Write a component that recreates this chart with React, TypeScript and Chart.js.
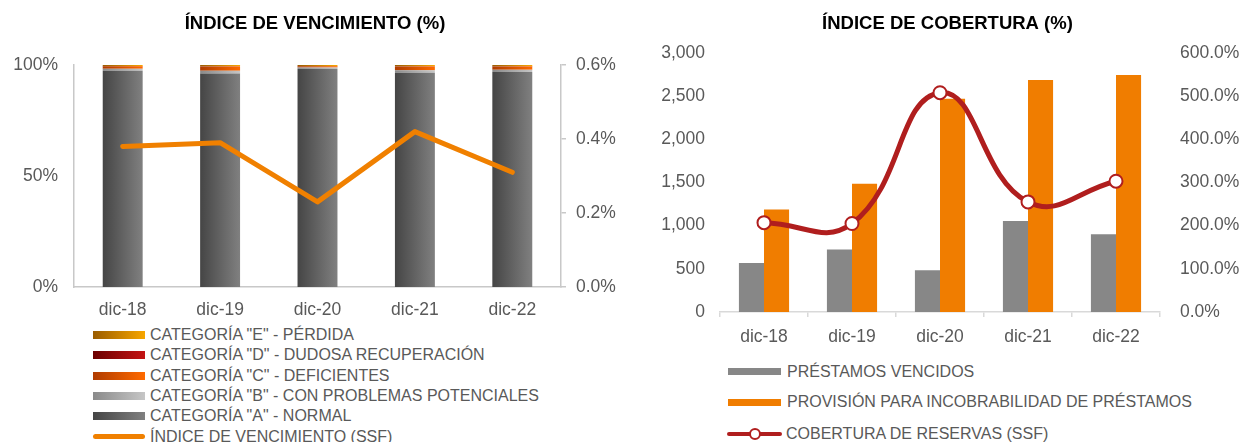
import React, { useEffect, useRef } from 'react';
import { Chart, registerables } from 'chart.js';
Chart.register(...registerables);

// ---------- DATA ----------
const categories = ['dic-18', 'dic-19', 'dic-20', 'dic-21', 'dic-22'];

// Índice de vencimiento: composition of portfolio by risk category (%)
const catA = [97.4, 96.2, 98.3, 96.5, 96.8];
const catB = [0.9, 1.2, 0.6, 1.1, 1.1];
const catC = [1.1, 1.9, 0.5, 1.7, 1.4];
const catD = [0.1, 0.1, 0.1, 0.1, 0.1];
const catE = [0.5, 0.6, 0.5, 0.6, 0.6];
const indiceVencimiento = [0.38, 0.39, 0.23, 0.42, 0.31];

// Índice de cobertura
const prestamosVencidos = [569, 724, 484, 1053, 902];
const provision = [1188, 1486, 2470, 2686, 2745];
const cobertura = [207, 205, 508, 255, 303];

const leftLabels = [
  'CATEGORÍA "A" - NORMAL',
  'CATEGORÍA "B" - CON PROBLEMAS POTENCIALES',
  'CATEGORÍA "C" - DEFICIENTES',
  'CATEGORÍA "D" - DUDOSA RECUPERACIÓN',
  'CATEGORÍA "E" - PÉRDIDA',
];
const leftLineLabel = 'ÍNDICE DE VENCIMIENTO (SSF)';
const rightLabels = ['PRÉSTAMOS VENCIDOS', 'PROVISIÓN PARA INCOBRABILIDAD DE PRÉSTAMOS'];
const rightLineLabel = 'COBERTURA DE RESERVAS (SSF)';

// ---------- STYLE ----------
const FONT = "'Liberation Sans', Arial, sans-serif";
const TXT = '#595959';
const AXIS = '#c8c8c8';
const gradA: [string, string] = ['#454545', '#808080'];
const gradB: [string, string] = ['#8a8a8a', '#c6c6c6'];
const gradC: [string, string] = ['#b03c00', '#ff6a00'];
const gradD: [string, string] = ['#6b0000', '#c41414'];
const gradE: [string, string] = ['#9a5c00', '#f7a600'];
const ORANGE_LINE = '#F08000';
const GRAY_BAR = '#878787';
const ORANGE_BAR = '#F07D00';
const RED_LINE = '#B01E1E';
const LEFT_BAR_PCT = 0.41;

function hGrad(c: [string, string]) {
  return (ctx: any) => {
    const chart = ctx.chart;
    const area = chart.chartArea;
    const xs = chart.scales && chart.scales.x;
    if (!area || !xs || ctx.dataIndex === undefined) return c[1];
    const cx = xs.getPixelForValue(ctx.dataIndex);
    const w = (area.width / categories.length) * LEFT_BAR_PCT;
    const g = chart.ctx.createLinearGradient(cx - w / 2, 0, cx + w / 2, 0);
    g.addColorStop(0, c[0]);
    g.addColorStop(1, c[1]);
    return g;
  };
}

const tickFont = { family: FONT, size: 17.5 };
const titleFont = { family: FONT, size: 18.5, weight: 'bold' as const, lineHeight: 1.2 };

export default function App() {
  const leftRef = useRef<HTMLCanvasElement | null>(null);
  const rightRef = useRef<HTMLCanvasElement | null>(null);

  useEffect(() => {
    const barDs = (label: string, data: number[], g: [string, string]) => ({
      type: 'bar' as const,
      label,
      data,
      backgroundColor: hGrad(g),
      stack: 's',
      yAxisID: 'y',
      order: 1,
      categoryPercentage: 1,
      barPercentage: LEFT_BAR_PCT,
    });
    const left = new Chart(leftRef.current as HTMLCanvasElement, {
      type: 'bar',
      data: {
        labels: categories,
        datasets: [
          {
            type: 'line',
            label: leftLineLabel,
            data: indiceVencimiento,
            yAxisID: 'y1',
            borderColor: ORANGE_LINE,
            backgroundColor: ORANGE_LINE,
            borderWidth: 5,
            pointRadius: 0,
            tension: 0,
            order: 0,
            borderCapStyle: 'round',
            borderJoinStyle: 'round',
          } as any,
          barDs(leftLabels[0], catA, gradA),
          barDs(leftLabels[1], catB, gradB),
          barDs(leftLabels[2], catC, gradC),
          barDs(leftLabels[3], catD, gradD),
          barDs(leftLabels[4], catE, gradE),
        ],
      },
      options: {
        responsive: false,
        animation: false,
        layout: { padding: 0 },
        plugins: {
          legend: { display: false },
          tooltip: { enabled: false },
          title: {
            display: true,
            text: 'ÍNDICE DE VENCIMIENTO (%)',
            color: '#000000',
            font: titleFont,
            padding: { top: 13, bottom: 29.8 },
          },
        },
        scales: {
          x: {
            stacked: true,
            grid: { display: false, drawTicks: false },
            border: { display: true, color: AXIS, width: 1.5 },
            ticks: { color: TXT, font: tickFont, padding: 13 },
            afterFit: (s: any) => { s.height = 33; },
          },
          y: {
            stacked: true,
            min: 0,
            max: 100,
            ticks: { stepSize: 50, color: TXT, font: tickFont, padding: 16, callback: (v: any) => v + '%' },
            grid: { display: false, drawTicks: false },
            border: { display: true, color: AXIS, width: 1.5 },
            afterFit: (s: any) => { s.width = 74; },
          },
          y1: {
            position: 'right',
            min: 0,
            max: 0.6,
            ticks: { stepSize: 0.2, color: TXT, font: tickFont, padding: 10, callback: (v: any) => Number(v).toFixed(1) + '%' },
            grid: { display: true, drawOnChartArea: false, drawTicks: true, tickLength: 5, color: AXIS, lineWidth: 1.5 },
            border: { display: true, color: AXIS, width: 1.5 },
            afterFit: (s: any) => { s.width = 69; },
          },
        },
      } as any,
    });

    const right = new Chart(rightRef.current as HTMLCanvasElement, {
      type: 'bar',
      data: {
        labels: categories,
        datasets: [
          {
            type: 'line',
            label: rightLineLabel,
            data: cobertura,
            yAxisID: 'y1',
            borderColor: RED_LINE,
            backgroundColor: '#ffffff',
            borderWidth: 5,
            tension: 0.45,
            pointRadius: 6.5,
            pointBorderWidth: 2,
            pointBackgroundColor: '#ffffff',
            pointBorderColor: RED_LINE,
            order: 0,
          } as any,
          {
            type: 'bar',
            label: rightLabels[0],
            data: prestamosVencidos,
            backgroundColor: GRAY_BAR,
            yAxisID: 'y',
            order: 1,
            categoryPercentage: 0.57,
            barPercentage: 1,
          },
          {
            type: 'bar',
            label: rightLabels[1],
            data: provision,
            backgroundColor: ORANGE_BAR,
            yAxisID: 'y',
            order: 1,
            categoryPercentage: 0.57,
            barPercentage: 1,
          },
        ],
      },
      options: {
        responsive: false,
        animation: false,
        layout: { padding: 0 },
        plugins: {
          legend: { display: false },
          tooltip: { enabled: false },
          title: {
            display: true,
            text: 'ÍNDICE DE COBERTURA (%)',
            color: '#000000',
            font: titleFont,
            padding: { top: 13, bottom: 17.8 },
          },
        },
        scales: {
          x: {
            grid: { display: true, drawOnChartArea: false, drawTicks: true, tickLength: 5, color: '#d9d9d9', lineWidth: 1.5 },
            border: { display: true, color: '#d9d9d9', width: 1.5 },
            ticks: { color: TXT, font: tickFont, padding: 10 },
            afterFit: (s: any) => { s.height = 33; },
          },
          y: {
            min: 0,
            max: 3000,
            ticks: { stepSize: 500, color: TXT, font: tickFont, padding: 15, callback: (v: any) => Number(v).toLocaleString('en-US') },
            grid: { display: false, drawTicks: false },
            border: { display: false },
            afterFit: (s: any) => { s.width = 80; },
          },
          y1: {
            position: 'right',
            min: 0,
            max: 600,
            ticks: { stepSize: 100, color: TXT, font: tickFont, padding: 20, callback: (v: any) => Number(v).toFixed(1) + '%' },
            grid: { display: false, drawTicks: false },
            border: { display: false },
            afterFit: (s: any) => { s.width = 95; },
          },
        },
      } as any,
    });

    return () => {
      left.destroy();
      right.destroy();
    };
  }, []);

  const leftLegend = [
    { label: leftLabels[4], g: gradE },
    { label: leftLabels[3], g: gradD },
    { label: leftLabels[2], g: gradC },
    { label: leftLabels[1], g: gradB },
    { label: leftLabels[0], g: gradA },
  ];

  const textStyle: React.CSSProperties = {
    fontFamily: FONT,
    fontSize: 16,
    color: TXT,
    whiteSpace: 'nowrap',
    lineHeight: '20px',
  };

  return (
    <div style={{ position: 'absolute', left: 0, top: 0, width: 1255, height: 442, overflow: 'hidden', background: '#ffffff' }}>
      <canvas ref={leftRef} width={630} height={320} style={{ position: 'absolute', left: 0, top: 0 }} />
      <canvas ref={rightRef} width={615} height={345} style={{ position: 'absolute', left: 640, top: 0 }} />

      {leftLegend.map((it, i) => (
        <div key={i} style={{ position: 'absolute', left: 93, top: 334.8 + i * 20.4 - 10, height: 20, display: 'flex', alignItems: 'center' }}>
          <div style={{ width: 52, height: 8, background: `linear-gradient(to right, ${it.g[0]}, ${it.g[1]})`, marginRight: 5 }} />
          <span style={textStyle}>{it.label}</span>
        </div>
      ))}
      <div style={{ position: 'absolute', left: 93, top: 334.8 + 5 * 20.4 - 10, height: 20, display: 'flex', alignItems: 'center' }}>
        <div style={{ width: 52, height: 5, borderRadius: 3, background: ORANGE_LINE, marginRight: 5 }} />
        <span style={textStyle}>{leftLineLabel}</span>
      </div>

      {[{ label: rightLabels[0], c: GRAY_BAR }, { label: rightLabels[1], c: ORANGE_BAR }].map((it, i) => (
        <div key={i} style={{ position: 'absolute', left: 728, top: 371.5 + i * 30.5 - 10, height: 20, display: 'flex', alignItems: 'center' }}>
          <div style={{ width: 53, height: 7, background: it.c, marginRight: 6 }} />
          <span style={textStyle}>{it.label}</span>
        </div>
      ))}
      <div style={{ position: 'absolute', left: 727, top: 434 - 10, height: 20, display: 'flex', alignItems: 'center' }}>
        <div style={{ position: 'relative', width: 55, height: 12, marginRight: 4 }}>
          <div style={{ position: 'absolute', left: 0, top: 4, width: 55, height: 4, borderRadius: 2, background: RED_LINE }} />
          <div style={{ position: 'absolute', left: 22, top: 0, width: 8, height: 8, borderRadius: '50%', background: '#ffffff', border: `2px solid ${RED_LINE}` }} />
        </div>
        <span style={textStyle}>{rightLineLabel}</span>
      </div>
    </div>
  );
}
